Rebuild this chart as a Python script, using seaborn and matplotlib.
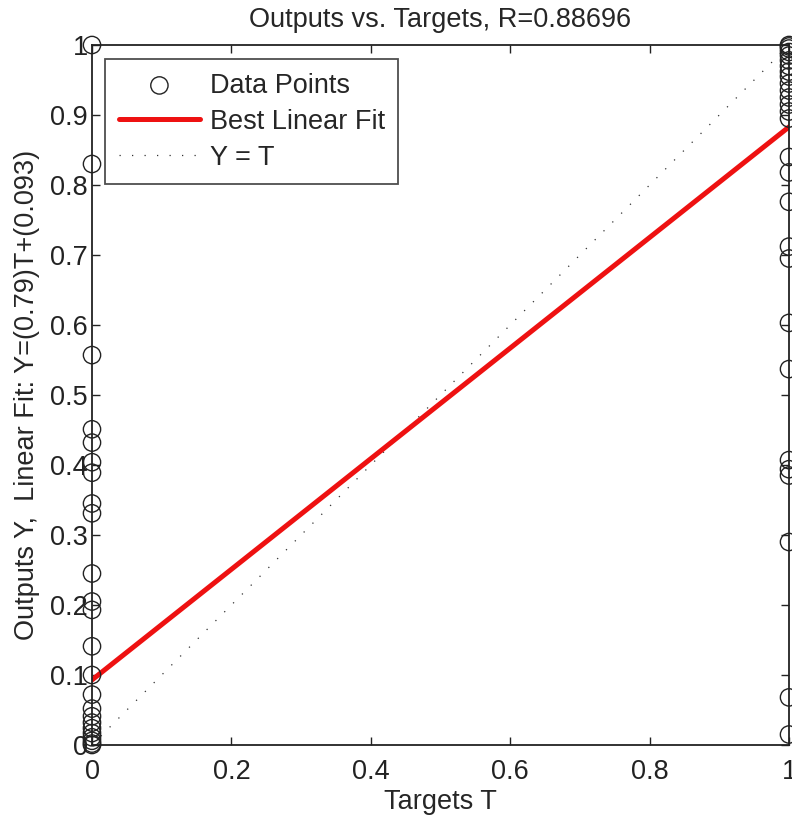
import numpy as np
import pandas as pd
import matplotlib
matplotlib.use("Agg")
import matplotlib.pyplot as plt
import seaborn as sns

# Outputs, grouped by target value
outputs_t0 = [1.0, 0.83, 0.557, 0.451, 0.432, 0.404, 0.389, 0.345, 0.331, 0.245,
              0.205, 0.193, 0.141, 0.1, 0.072, 0.052, 0.041, 0.032, 0.024, 0.017,
              0.011, 0.006, 0.002, 0.0]
outputs_t1 = [1.0, 0.998, 0.995, 0.99, 0.985, 0.978, 0.97, 0.962, 0.955, 0.945,
              0.935, 0.925, 0.915, 0.905, 0.895, 0.84, 0.818, 0.776, 0.712, 0.695,
              0.603, 0.537, 0.407, 0.394, 0.385, 0.29, 0.068, 0.015]
fit_slope = 0.79
fit_intercept = 0.093
r_value = 0.88696
x_ticks = [0, 0.2, 0.4, 0.6, 0.8, 1]
x_ticklabels = ["0", "0.2", "0.4", "0.6", "0.8", "1"]
y_ticks = [0, 0.1, 0.2, 0.3, 0.4, 0.5, 0.6, 0.7, 0.8, 0.9, 1]
y_ticklabels = ["0", "0.1", "0.2", "0.3", "0.4", "0.5", "0.6", "0.7", "0.8", "0.9", "1"]

df = pd.DataFrame({
    "T": [0] * len(outputs_t0) + [1] * len(outputs_t1),
    "Y": outputs_t0 + outputs_t1,
})
t_line = np.array([0, 1])
lines = pd.DataFrame({"T": t_line, "fit": fit_slope * t_line + fit_intercept, "ident": t_line})

sns.set_style("ticks")
plt.rcParams["font.family"] = ["Liberation Sans", "DejaVu Sans"]
fs = 19.5
plt.rcParams["font.size"] = fs

fig = plt.figure(figsize=(7.92, 8.18), dpi=100)
ax = fig.add_axes([92 / 792, 73 / 818, 697 / 792, 700 / 818])

sns.scatterplot(data=df, x="T", y="Y", ax=ax, marker="o", s=155,
                facecolor="none", edgecolor="#222222", linewidth=1.0,
                label="Data Points", clip_on=False, zorder=3)
sns.lineplot(data=lines, x="T", y="fit", ax=ax, color="#ee1111", linewidth=3.6,
             label="Best Linear Fit", zorder=2)
sns.lineplot(data=lines, x="T", y="ident", ax=ax, color="#333333", linewidth=0.9,
             linestyle=(0, (1, 9)), label="Y = T", zorder=1)

ax.set_xlim(0, 1)
ax.set_ylim(0, 1)
ax.set_xticks(x_ticks)
ax.set_xticklabels(x_ticklabels)
ax.set_yticks(y_ticks)
ax.set_yticklabels(y_ticklabels)
ax.tick_params(direction="in", length=6, width=1, top=True, right=True,
               labelsize=fs, colors="#222222", pad=3)
ax.tick_params(axis="x", pad=10)
for s in ax.spines.values():
    s.set_linewidth(1.3)
    s.set_color("#222222")

ax.set_title(f"Outputs vs. Targets, R={r_value}", fontsize=fs, pad=13)
ax.set_xlabel("Targets T", fontsize=fs, labelpad=3)
ax.set_ylabel(f"Outputs Y,  Linear Fit: Y=({fit_slope})T+({fit_intercept})",
              fontsize=fs, labelpad=7)

leg = ax.legend(loc="upper left", bbox_to_anchor=(0.019, 0.98), borderaxespad=0,
                frameon=True, fancybox=False, edgecolor="#222222", handlelength=3.0,
                borderpad=0.5, labelspacing=0.37, handletextpad=0.35, fontsize=fs)
leg.get_frame().set_linewidth(1.3)

fig.savefig("out.png", dpi=100)
